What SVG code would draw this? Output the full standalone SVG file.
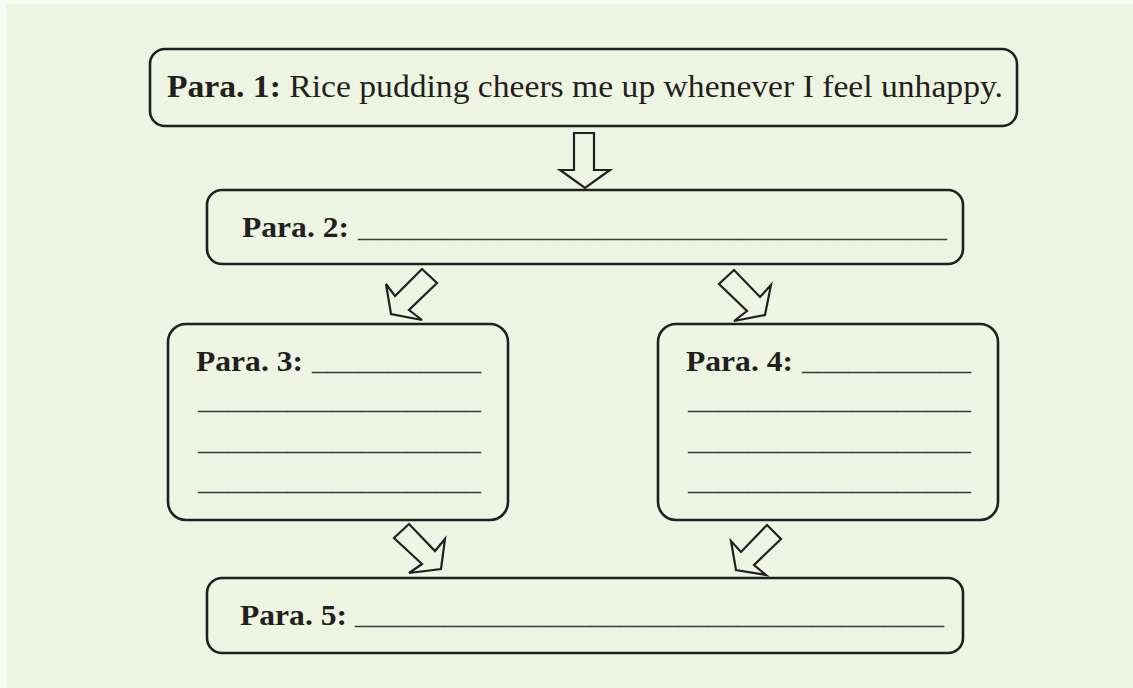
<svg xmlns="http://www.w3.org/2000/svg" width="1133" height="688" viewBox="0 0 1133 688">
<style>
.box{fill:none;stroke:#231f20;stroke-width:2.6}
.arr{fill:none;stroke:#231f20;stroke-width:2.2;stroke-linejoin:miter}
.t{font-family:"Liberation Serif",serif;font-size:29px;fill:#231f20}
.b{font-weight:bold}
.u{font-family:"Liberation Serif",serif;font-size:29px;fill:#3a3a3a}
</style>
<rect x="0" y="0" width="1133" height="688" fill="#f7faf1"/>
<rect x="6" y="4" width="1127" height="684" fill="#eef5e2"/>
<g id="para1">
<rect class="box" x="150" y="49" width="867" height="77" rx="15"/>
<text class="t" x="167" y="97" style="font-size:31.5px" textLength="836" lengthAdjust="spacingAndGlyphs"><tspan class="b">Para. 1:</tspan> Rice pudding cheers me up whenever I feel unhappy.</text>
</g>
<g id="para2">
<rect class="box" x="207" y="190" width="756" height="74" rx="15"/>
<text class="t b" x="242" y="237" textLength="107" lengthAdjust="spacingAndGlyphs">Para. 2:</text>
<text class="u" x="358" y="237" textLength="589" lengthAdjust="spacingAndGlyphs">________________________________________</text>
</g>
<g id="para3">
<rect class="box" x="168" y="324" width="340" height="196" rx="18"/>
<text class="t b" x="196" y="371" textLength="107" lengthAdjust="spacingAndGlyphs">Para. 3:</text>
<text class="u" x="312" y="370" textLength="169" lengthAdjust="spacingAndGlyphs">___________</text>
<text class="u" x="198" y="409" textLength="283" lengthAdjust="spacingAndGlyphs">___________________</text>
<text class="u" x="198" y="450" textLength="283" lengthAdjust="spacingAndGlyphs">___________________</text>
<text class="u" x="198" y="490" textLength="283" lengthAdjust="spacingAndGlyphs">___________________</text>
</g>
<g id="para4">
<rect class="box" x="658" y="324" width="340" height="196" rx="18"/>
<text class="t b" x="686" y="371" textLength="107" lengthAdjust="spacingAndGlyphs">Para. 4:</text>
<text class="u" x="802" y="370" textLength="169" lengthAdjust="spacingAndGlyphs">___________</text>
<text class="u" x="688" y="409" textLength="283" lengthAdjust="spacingAndGlyphs">___________________</text>
<text class="u" x="688" y="450" textLength="283" lengthAdjust="spacingAndGlyphs">___________________</text>
<text class="u" x="688" y="490" textLength="283" lengthAdjust="spacingAndGlyphs">___________________</text>
</g>
<g id="para5">
<rect class="box" x="207" y="578" width="756" height="75" rx="15"/>
<text class="t b" x="240" y="625" textLength="107" lengthAdjust="spacingAndGlyphs">Para. 5:</text>
<text class="u" x="355" y="624" textLength="589" lengthAdjust="spacingAndGlyphs">________________________________________</text>
</g>
<g id="connectors">
<polygon class="arr" points="574,133 594,133 594,170 610,170 585,188 560,170 574,170"/>
<polygon class="arr" points="422,269 437,283 409,310 422,320 391,314 386,284 395,296"/>
<polygon class="arr" points="734,270 719,284 747,311 734,321 765,315 771,285 760,297"/>
<polygon class="arr" points="409,524 394,538 422,564 409,573 441,569 445,539 435,551"/>
<polygon class="arr" points="767,525 781,539 754,565 766,575 736,570 731,541 741,552"/>
</g>
</svg>
